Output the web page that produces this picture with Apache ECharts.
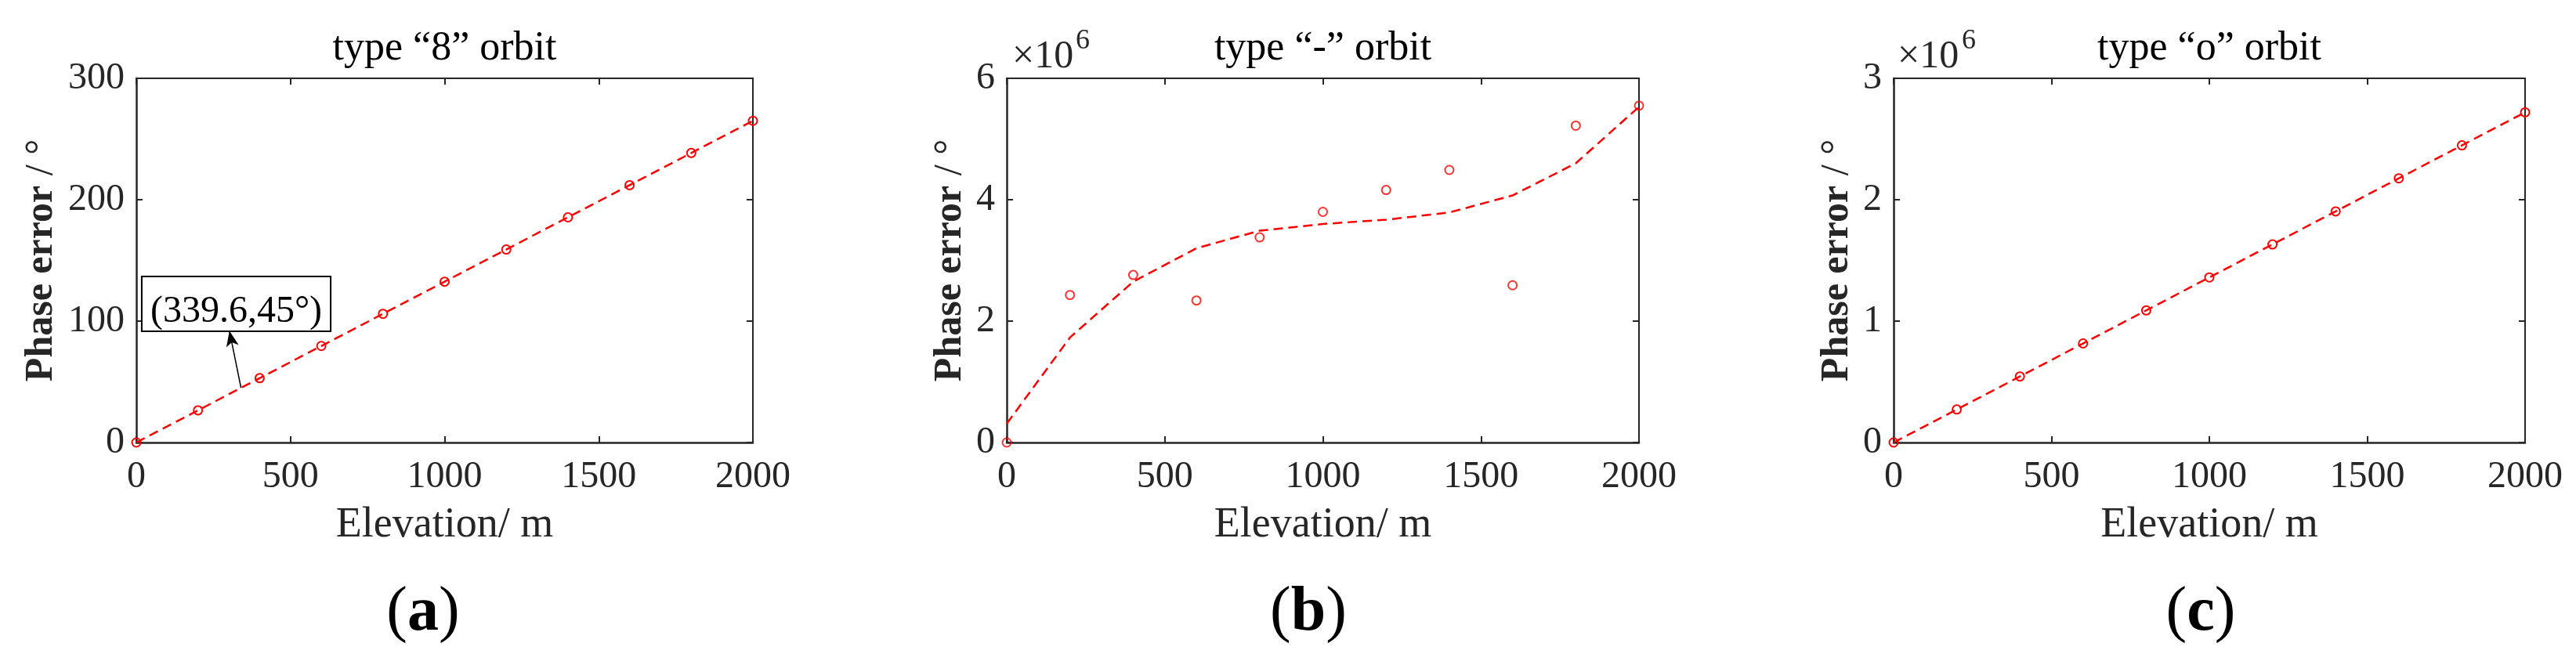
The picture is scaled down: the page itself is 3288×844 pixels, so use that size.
<!DOCTYPE html>
<html>
<head>
<meta charset="utf-8">
<script src="https://cdn.jsdelivr.net/npm/echarts@6/dist/echarts.min.js"></script>
<style>
html,body{margin:0;padding:0;background:#fff;}
#c{width:3288px;height:844px;}
</style>
</head>
<body>
<div id="c"></div>
<script>
// ---- data ----
var elevation = [0, 200, 400, 600, 800, 1000, 1200, 1400, 1600, 1800, 2000];
var errEight = [0, 26.5, 53, 79.5, 106, 132.5, 159, 185.5, 212, 238.5, 265];
var errDashPts = [0, 2430000, 2760000, 2340000, 3380000, 3800000, 4160000, 4490000, 2590000, 5220000, 5550000];
var errDashFit = [310000, 1730000, 2650000, 3200000, 3490000, 3600000, 3670000, 3790000, 4070000, 4600000, 5530000];
var errO = [0, 272000, 544000, 816000, 1088000, 1360000, 1632000, 1904000, 2176000, 2448000, 2720000];
var titles = ['type \u201c8\u201d orbit', 'type \u201c-\u201d orbit', 'type \u201co\u201d orbit'];
var panelTags = ['a', 'b', 'c'];
var xTicks = {min: 0, max: 2000, interval: 500};
var yRanges = [
  {min: 0, max: 300, interval: 100, scale: 1},
  {min: 0, max: 6000000, interval: 2000000, scale: 1e6},
  {min: 0, max: 3000000, interval: 1000000, scale: 1e6}
];
var annotText = '(339.6,45\u00b0)';
var annotFrom = [339.6, 45];
var annotTo = [302, 92];

function pairs(xs, ys) { return xs.map(function (x, i) { return [x, ys[i]]; }); }

var FONT = "'Liberation Serif', 'Times New Roman', serif";
var TXT = '#262626';
var RED = '#ff0000';

var grids = [
  {left: 174, top: 100, width: 787, height: 465},
  {left: 1285, top: 100, width: 807, height: 465},
  {left: 2417, top: 100, width: 806, height: 465}
];
var yNameGap = [96, 47, 47];
var tagX = [540, 1670, 2809];

var xAxes = [], yAxes = [];
grids.forEach(function (g, i) {
  var lineStyle = {color: TXT, width: 2};
  xAxes.push({
    type: 'value', gridIndex: i, position: 'bottom',
    min: xTicks.min, max: xTicks.max, interval: xTicks.interval,
    axisLine: {show: true, onZero: false, lineStyle: {color: TXT, width: 2.5}},
    axisTick: {show: true, inside: true, length: 8, lineStyle: lineStyle},
    axisLabel: {show: true, margin: 20, fontSize: 48, fontFamily: FONT, color: TXT,
      formatter: function (v) { return String(v); }},
    splitLine: {show: false},
    name: 'Elevation/ m', nameLocation: 'middle', nameGap: 79,
    nameTextStyle: {fontSize: 54, fontFamily: FONT, color: TXT}
  });
  xAxes.push({
    type: 'value', gridIndex: i, position: 'top',
    min: xTicks.min, max: xTicks.max, interval: xTicks.interval,
    axisLine: {show: true, onZero: false, lineStyle: lineStyle},
    axisTick: {show: true, inside: true, length: 8, lineStyle: lineStyle},
    axisLabel: {show: false}, splitLine: {show: false}
  });
  var yr = yRanges[i];
  yAxes.push({
    type: 'value', gridIndex: i, position: 'left',
    min: yr.min, max: yr.max, interval: yr.interval,
    axisLine: {show: true, onZero: false, lineStyle: {color: TXT, width: 2.5}},
    axisTick: {show: true, inside: true, length: 8, lineStyle: lineStyle},
    axisLabel: {show: true, margin: 15, fontSize: 48, fontFamily: FONT, color: TXT,
      formatter: function (v) { return String(Math.round(v / yr.scale * 1000) / 1000); }},
    splitLine: {show: false},
    name: '{b|Phase error}{n| / \u00b0}', nameLocation: 'middle', nameGap: yNameGap[i], nameRotate: 90,
    nameTextStyle: {
      fontSize: 50, fontFamily: FONT, color: TXT,
      rich: {
        b: {fontSize: 50, fontFamily: FONT, fontWeight: 'bold', color: TXT},
        n: {fontSize: 50, fontFamily: FONT, color: TXT}
      }
    }
  });
  yAxes.push({
    type: 'value', gridIndex: i, position: 'right',
    min: yr.min, max: yr.max, interval: yr.interval,
    axisLine: {show: true, onZero: false, lineStyle: lineStyle},
    axisTick: {show: true, inside: true, length: 8, lineStyle: lineStyle},
    axisLabel: {show: false}, splitLine: {show: false}
  });
});

var dashLine = {color: RED, width: 2.5, type: [12, 7]};

var series = [
  {
    type: 'line', xAxisIndex: 0, yAxisIndex: 0,
    data: pairs(elevation, errEight),
    symbol: 'circle', symbolSize: 11, showAllSymbol: true,
    itemStyle: {color: 'rgba(0,0,0,0)', borderColor: RED, borderWidth: 2},
    lineStyle: dashLine, z: 3, animation: false,
    markLine: {
      silent: true, animation: false,
      symbol: ['none', 'arrow'], symbolSize: [12, 20],
      label: {show: false},
      lineStyle: {color: '#000', width: 1.5, type: 'solid'},
      emphasis: {disabled: true},
      data: [[{coord: annotFrom}, {coord: annotTo}]]
    }
  },
  {
    type: 'line', xAxisIndex: 2, yAxisIndex: 2,
    data: pairs(elevation, errDashFit),
    symbol: 'none', lineStyle: dashLine, z: 3, animation: false
  },
  {
    type: 'scatter', xAxisIndex: 2, yAxisIndex: 2,
    data: pairs(elevation, errDashPts),
    symbol: 'circle', symbolSize: 11,
    itemStyle: {color: 'rgba(0,0,0,0)', borderColor: RED, borderWidth: 2},
    z: 4, animation: false
  },
  {
    type: 'line', xAxisIndex: 4, yAxisIndex: 4,
    data: pairs(elevation, errO),
    symbol: 'circle', symbolSize: 11, showAllSymbol: true,
    itemStyle: {color: 'rgba(0,0,0,0)', borderColor: RED, borderWidth: 2},
    lineStyle: dashLine, z: 3, animation: false
  }
];

var graphics = [];
grids.forEach(function (g, i) {
  graphics.push({
    type: 'text', x: g.left + g.width / 2, y: 62.5,
    style: {text: titles[i], font: '52px ' + FONT, fill: '#000', align: 'center', verticalAlign: 'middle'}
  });
  graphics.push({
    type: 'text', x: tagX[i], y: 783,
    style: {
      text: '{p|(}{b|' + panelTags[i] + '}{p|)}', align: 'center', verticalAlign: 'middle',
      rich: {
        p: {font: '80px ' + FONT, fill: '#000'},
        b: {font: 'bold 80px ' + FONT, fill: '#000'}
      }
    }
  });
});
// x10^6 multipliers for panels b and c
[[1292, 1373], [2422, 2504]].forEach(function (p) {
  graphics.push({
    type: 'text', x: p[0], y: 73,
    style: {text: '\u00d710', font: '50px ' + FONT, fill: TXT, align: 'left', verticalAlign: 'middle'}
  });
  graphics.push({
    type: 'text', x: p[1], y: 53,
    style: {text: '6', font: '36px ' + FONT, fill: TXT, align: 'left', verticalAlign: 'middle'}
  });
});
// annotation box in panel a
graphics.push({
  type: 'text', x: 301.5, y: 354, z: 10,
  style: {
    text: annotText, font: '48px ' + FONT, fill: '#000', align: 'center', verticalAlign: 'top',
    backgroundColor: '#fff', borderColor: '#000', borderWidth: 2, padding: [20, 10, 0, 10]
  }
});

var chart = echarts.init(document.getElementById('c'), null, {renderer: 'canvas'});
chart.setOption({
  animation: false,
  backgroundColor: '#fff',
  grid: grids.map(function (g) { return Object.assign({containLabel: false}, g); }),
  xAxis: xAxes,
  yAxis: yAxes,
  series: series,
  graphic: graphics
});
</script>
</body>
</html>
